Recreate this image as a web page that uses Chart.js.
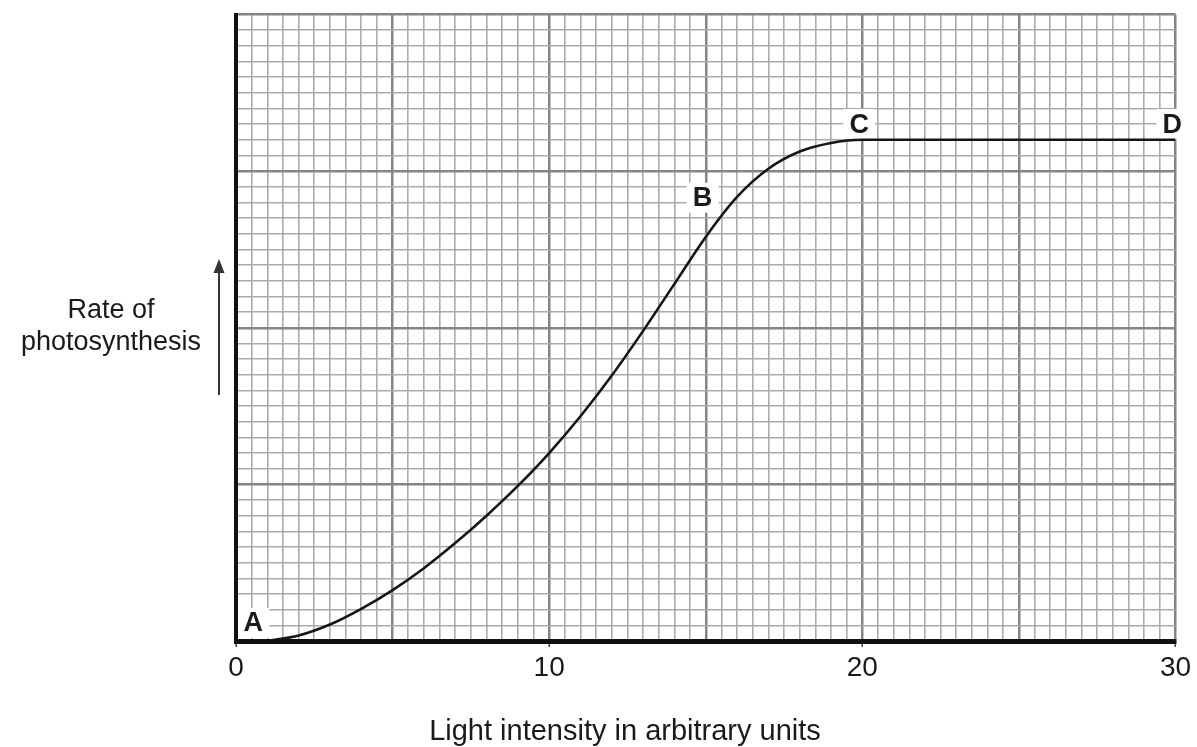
<!DOCTYPE html>
<html>
<head>
<meta charset="utf-8">
<title>Rate of photosynthesis</title>
<script src="https://cdn.jsdelivr.net/npm/chart.js@4.4.1/dist/chart.umd.min.js"></script>
<style>
  html, body { margin: 0; padding: 0; background: #fff; }
  #wrap { width: 1197px; height: 747px; }
</style>
</head>
<body>
<div id="wrap"><canvas id="myChart" width="1197" height="747"></canvas></div>
<script>
// values (x in light units, y in grid squares)
const lightIntensity = [1, 2, 3, 4, 5, 6, 7, 8, 9, 10, 11, 12, 13, 14, 15, 16, 17, 18, 19, 20, 30];
const photoRate = [0, 0.35, 1.05, 2.05, 3.25, 4.65, 6.25, 8.0, 9.9, 12.0, 14.35, 16.95, 19.8, 22.8, 25.8, 28.35, 30.15, 31.25, 31.8, 32, 32];
const xTickLabels = [0, 10, 20, 30];
const pointLetters = ["A", "B", "C", "D"];
const letterX = [0.55, 14.9, 19.9, 29.9];
const letterY = [1.15, 28.3, 33.0, 33.0];
const xTitle = "Light intensity in arbitrary units";
const yTitle = ["Rate of", "photosynthesis"];

const FONT = "'Liberation Sans', Arial, sans-serif";
const MAJOR = "#858585";
const MINOR = "#ababab";

// letters on the curve, each sitting on a small white patch
const letterPlugin = {
  id: "letters",
  beforeDatasetsDraw(chart) {
    const ctx = chart.ctx;
    const xs = chart.scales.x;
    const ys = chart.scales.y;
    ctx.save();
    ctx.font = "bold 27px " + FONT;
    ctx.textAlign = "center";
    ctx.textBaseline = "middle";
    pointLetters.forEach((l, i) => {
      const px = xs.getPixelForValue(letterX[i]);
      const py = ys.getPixelForValue(letterY[i]);
      ctx.fillStyle = "#fff";
      ctx.fillRect(px - 16, py - 15, 32, 30);
      ctx.fillStyle = "#1a1a1a";
      ctx.fillText(l, px, py + 1);
    });
    ctx.restore();
  }
};

// axis captions and the upward arrow
const axisTextPlugin = {
  id: "axisText",
  afterDraw(chart) {
    const ctx = chart.ctx;
    ctx.save();
    ctx.fillStyle = "#1a1a1a";
    ctx.textAlign = "center";
    ctx.textBaseline = "alphabetic";
    ctx.font = "29px " + FONT;
    ctx.fillText(xTitle, 625, 740);
    ctx.font = "27px " + FONT;
    ctx.fillText(yTitle[0], 111, 318);
    ctx.fillText(yTitle[1], 111, 350);

    ctx.strokeStyle = "#333";
    ctx.fillStyle = "#333";
    ctx.lineWidth = 2;
    ctx.beginPath();
    ctx.moveTo(219, 395);
    ctx.lineTo(219, 270);
    ctx.stroke();
    ctx.beginPath();
    ctx.moveTo(219, 259);
    ctx.lineTo(213.5, 273);
    ctx.lineTo(224.5, 273);
    ctx.closePath();
    ctx.fill();
    ctx.restore();
  }
};

const points = lightIntensity.map((v, i) => ({ x: v, y: photoRate[i] }));

const config = {
  type: "scatter",
  data: {
    datasets: [
      {
        data: points,
        showLine: true,
        borderColor: "#161616",
        borderWidth: 2.6,
        pointRadius: 0,
        cubicInterpolationMode: "monotone",
        fill: false,
      },
    ],
  },
  options: {
    responsive: false,
    animation: false,
    layout: { padding: { left: 236, right: 21.5, top: 14.5, bottom: 0 } },
    plugins: { legend: { display: false }, tooltip: { enabled: false } },
    scales: {
      x: {
        type: "linear",
        min: 0,
        max: 30,
        afterFit(scale) {
          scale.height = 106;
        },
        border: { color: "#111", width: 5, z: 1 },
        grid: {
          color: (c) => (c.tick && c.tick.value % 5 === 0 ? MAJOR : MINOR),
          lineWidth: (c) => (c.tick && c.tick.value % 5 === 0 ? 2.5 : 1.6),
          tickLength: 6,
          tickWidth: 1.5,
          tickColor: (c) => (c.tick && c.tick.value % 10 === 0 ? "#444" : "rgba(0,0,0,0)"),
        },
        ticks: {
          stepSize: 0.5,
          autoSkip: false,
          maxRotation: 0,
          padding: 4,
          color: "#1a1a1a",
          font: { family: FONT, size: 28 },
          callback: (v) => (xTickLabels.includes(v) ? String(v) : ""),
        },
      },
      y: {
        type: "linear",
        min: 0,
        max: 40,
        afterFit(scale) {
          scale.width = 0;
        },
        border: { color: "#111", width: 4, z: 1 },
        grid: {
          color: (c) => (c.tick && c.tick.value % 10 === 0 ? MAJOR : MINOR),
          lineWidth: (c) => (c.tick && c.tick.value % 10 === 0 ? 2.5 : 1.6),
          drawTicks: false,
        },
        ticks: { display: false, stepSize: 1 },
      },
    },
  },
  plugins: [letterPlugin, axisTextPlugin],
};

var myChart = new Chart(document.getElementById("myChart"), config);
</script>
</body>
</html>
